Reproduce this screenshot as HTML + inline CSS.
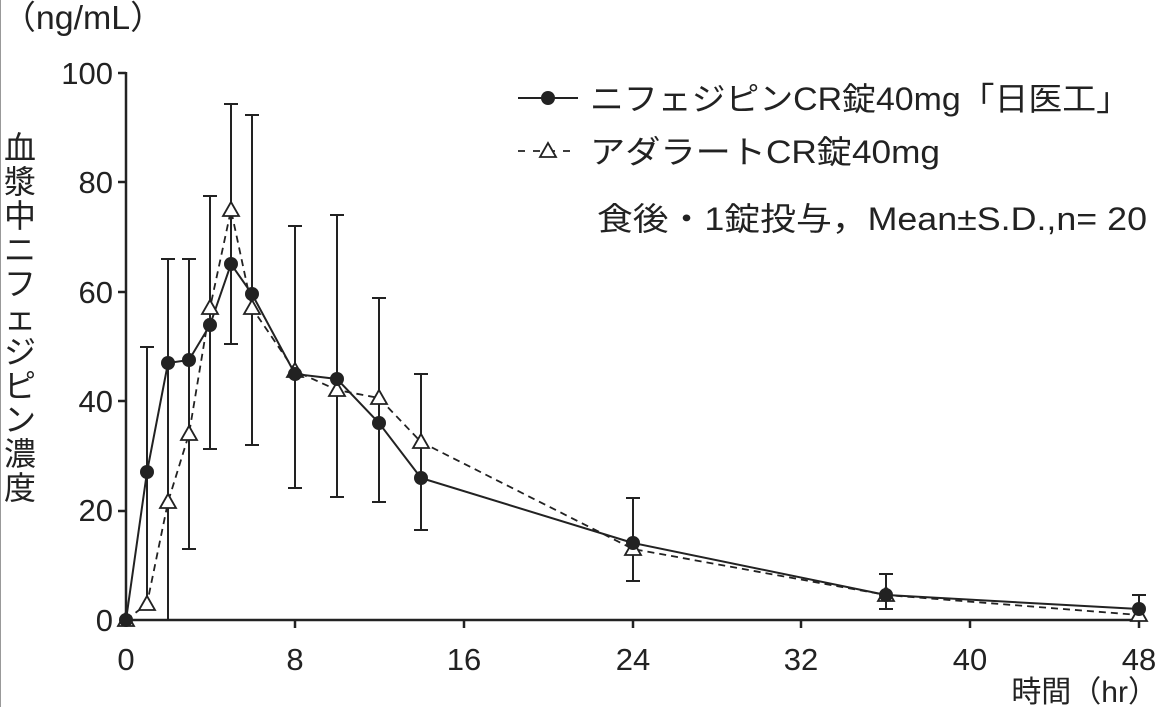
<!DOCTYPE html>
<html><head><meta charset="utf-8"><style>
body{margin:0;background:#fff;}
svg{display:block;font-family:"Liberation Sans","Noto Sans CJK JP",sans-serif;}
</style></head><body>
<svg width="1158" height="707" viewBox="0 0 1158 707" xmlns="http://www.w3.org/2000/svg">
<line x1="0.5" y1="0" x2="0.5" y2="707" stroke="#999" stroke-width="1"/>
<text x="2" y="29" font-size="33" fill="#222" textLength="162" lengthAdjust="spacingAndGlyphs">（ng/mL）</text>
<g font-size="31" fill="#222" text-anchor="end">
<text x="113" y="84">100</text>
<text x="113" y="193">80</text>
<text x="113" y="303">60</text>
<text x="113" y="412">40</text>
<text x="113" y="521">20</text>
<text x="113" y="631">0</text>
</g>
<g font-size="31" fill="#222" text-anchor="middle">
<text x="126" y="670">0</text>
<text x="295" y="670">8</text>
<text x="464" y="670">16</text>
<text x="633" y="670">24</text>
<text x="801" y="670">32</text>
<text x="970" y="670">40</text>
<text x="1139" y="670">48</text>
</g>
<text x="1158" y="702" font-size="30" fill="#222" text-anchor="end">時間（hr）</text>
<g font-size="32" fill="#222" text-anchor="middle">
<text x="20" y="159">血</text><text x="20" y="193">漿</text><text x="20" y="227">中</text>
<text x="20" y="261">ニ</text><text x="20" y="295">フ</text><text x="20" y="329">ェ</text>
<text x="20" y="363">ジ</text><text x="20" y="397">ピ</text><text x="20" y="431">ン</text>
<text x="20" y="465">濃</text><text x="20" y="499">度</text>
</g>
<g stroke="#222" stroke-width="2.5" fill="none">
<line x1="126" y1="72" x2="126" y2="620"/>
<line x1="126" y1="620" x2="1146" y2="620"/>
<line x1="118" y1="73" x2="126" y2="73"/><line x1="118" y1="182" x2="126" y2="182"/>
<line x1="118" y1="292" x2="126" y2="292"/><line x1="118" y1="401" x2="126" y2="401"/>
<line x1="118" y1="511" x2="126" y2="511"/>
<line x1="295" y1="620" x2="295" y2="628"/><line x1="464" y1="620" x2="464" y2="628"/>
<line x1="633" y1="620" x2="633" y2="628"/><line x1="801" y1="620" x2="801" y2="628"/>
<line x1="970" y1="620" x2="970" y2="628"/><line x1="1139" y1="620" x2="1139" y2="628"/>
</g>
<g stroke="#222" stroke-width="2" fill="none">
<path d="M147 347V604 M140 347H154"/>
<path d="M168 259V620 M161 259H175"/>
<path d="M189 259V549 M182 259H196 M182 549H196"/>
<path d="M210 196V449 M203 196H217 M203 449H217"/>
<path d="M231 104V344 M224 104H238 M224 344H238"/>
<path d="M252 115V445 M245 115H259 M245 445H259"/>
<path d="M295 226V488 M288 226H302 M288 488H302"/>
<path d="M337 215V497 M330 215H344 M330 497H344"/>
<path d="M379 298V502 M372 298H386 M372 502H386"/>
<path d="M421 374V530 M414 374H428 M414 530H428"/>
<path d="M633 498V581 M626 498H640 M626 581H640"/>
<path d="M886 574V609 M879 574H893 M879 609H893"/>
<path d="M1139 595V618 M1132 595H1146"/>
</g>
<polyline fill="none" stroke="#222" stroke-width="1.8" stroke-dasharray="7,5" points="126,620 147,604 168,502 189,434 210,308 231,210 252,308 295,371 337,390 379,398 421,442 633,549 886,595 1139,615"/>
<polyline fill="none" stroke="#222" stroke-width="2" points="126,620 147,472 168,363 189,360 210,325 231,264 252,294 295,374 337,379 379,423 421,478 633,543 886,595 1139,609"/>
<g fill="#fff" stroke="#222" stroke-width="1.8">
<path d="M147 596l-8 14h16z"/><path d="M168 494l-8 14h16z"/><path d="M189 426l-8 14h16z"/>
<path d="M210 300l-8 14h16z"/><path d="M231 202l-8 14h16z"/><path d="M252 300l-8 14h16z"/>
<path d="M295 363l-8 14h16z"/><path d="M337 382l-8 14h16z"/><path d="M379 390l-8 14h16z"/>
<path d="M421 434l-8 14h16z"/><path d="M633 541l-8 14h16z"/><path d="M886 587l-8 14h16z"/>
<path d="M1139 607l-8 14h16z"/><path d="M126 612l-8 14h16z"/>
</g>
<g fill="#222">
<circle cx="126" cy="620" r="7"/><circle cx="147" cy="472" r="7"/><circle cx="168" cy="363" r="7"/>
<circle cx="189" cy="360" r="7"/><circle cx="210" cy="325" r="7"/><circle cx="231" cy="264" r="7"/>
<circle cx="252" cy="294" r="7"/><circle cx="295" cy="374" r="7"/><circle cx="337" cy="379" r="7"/>
<circle cx="379" cy="423" r="7"/><circle cx="421" cy="478" r="7"/><circle cx="633" cy="543" r="7"/>
<circle cx="886" cy="595" r="7"/><circle cx="1139" cy="609" r="7"/>
</g>
<line x1="518" y1="98" x2="578" y2="98" stroke="#222" stroke-width="2"/>
<circle cx="548" cy="98" r="7" fill="#222"/>
<line x1="518" y1="151" x2="578" y2="151" stroke="#222" stroke-width="1.8" stroke-dasharray="7,8"/>
<path d="M548 143l-8 14h16z" fill="#fff" stroke="#222" stroke-width="1.8"/>
<g font-size="32" fill="#222">
<text x="590" y="110" textLength="540" lengthAdjust="spacingAndGlyphs">ニフェジピンCR錠40mg「日医工」</text>
<text x="590" y="163" textLength="350" lengthAdjust="spacingAndGlyphs">アダラートCR錠40mg</text>
<text x="1147" y="230" text-anchor="end" textLength="550" lengthAdjust="spacingAndGlyphs">食後・1錠投与，Mean±S.D.,n= 20</text>
</g>
</svg>
</body></html>
